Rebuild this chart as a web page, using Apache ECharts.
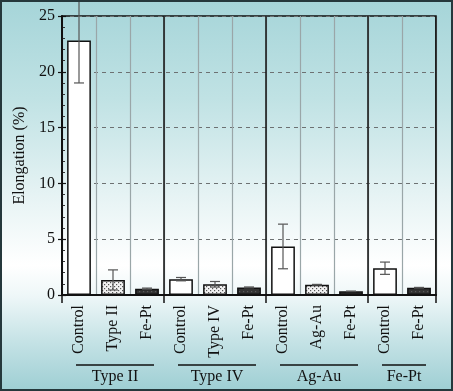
<!DOCTYPE html>
<html><head><meta charset="utf-8">
<script src="https://cdn.jsdelivr.net/npm/echarts@6/dist/echarts.min.js"></script>
<style>
html,body{margin:0;padding:0;}
#c{width:453px;height:391px;box-sizing:border-box;border:2px solid #25383c;}
</style></head>
<body><div id="c"></div>
<script>
// ---- data ----
const categories = ['Control','Type II','Fe-Pt','Control','Type IV','Fe-Pt','Control','Ag-Au','Fe-Pt','Control','Fe-Pt'];
const values     = [22.8, 1.35, 0.57, 1.42, 0.96, 0.68, 4.35, 0.92, 0.33, 2.4, 0.65];
const errors     = [3.8, 0.9, 0.05, 0.15, 0.25, 0.04, 2.0, 0.03, 0.02, 0.55, 0.03];
const groupNames = ['Type II','Type IV','Ag-Au','Fe-Pt'];
const groupStart = [0, 3, 6, 9];
const groupEnd   = [2, 5, 8, 10];
const yTicks     = [0, 5, 10, 15, 20, 25];

const FONT = '"Liberation Serif", "Times New Roman", serif';

function makePattern(bg, dot, size, pts) {
  const c = document.createElement('canvas');
  c.width = size; c.height = size;
  const g = c.getContext('2d');
  g.fillStyle = bg; g.fillRect(0,0,size,size);
  g.fillStyle = dot;
  pts.forEach(p => g.fillRect(p[0], p[1], 1.2, 1.2));
  return {image: c, repeat: 'repeat'};
}
const dotPattern  = makePattern('#f2f2f2', '#555', 4, [[0,0],[2,2]]);
const darkPattern = makePattern('#333333', '#5a5a5a', 4, [[1,1]]);

function fillFor(name) {
  if (name === 'Control') return '#ffffff';
  if (name === 'Fe-Pt') return darkPattern;
  return dotPattern;
}

const barData = values.map((v, i) => ({
  value: v,
  itemStyle: {color: fillFor(categories[i]), borderColor: '#111', borderWidth: 1.5}
}));
const errData = values.map((v, i) => [i, v, errors[i]]);
const groupData = groupNames.map((n, i) => [groupStart[i], groupEnd[i], n]);
const boundaryData = [0, 3, 6, 9, 11].map(b => [b]);

const chart = echarts.init(document.getElementById('c'), null, {renderer: 'canvas'});
const yMax = yTicks[yTicks.length - 1];

chart.setOption({
  animation: false,
  backgroundColor: {type: 'linear', x: 0, y: 0, x2: 0, y2: 1, colorStops: [
    {offset: 0, color: '#a6d5d9'},
    {offset: 0.25, color: '#c0e2e4'},
    {offset: 0.5, color: '#e6f3f4'},
    {offset: 0.68, color: '#ffffff'},
    {offset: 0.76, color: '#eef7f8'},
    {offset: 0.88, color: '#c4e2e5'},
    {offset: 1, color: '#9fcfd4'}
  ]},
  grid: {left: 60, right: 15, top: 14, bottom: 94, show: true, borderColor: '#111', borderWidth: 1.5, backgroundColor: 'transparent'},
  xAxis: {
    type: 'category',
    data: categories,
    axisLine: {lineStyle: {color: '#111', width: 2}},
    axisTick: {show: false},
    axisLabel: {rotate: 90, margin: 10, fontFamily: FONT, fontSize: 16, color: '#111', interval: 0},
    splitLine: {show: true, interval: 0, lineStyle: {color: '#9aa6a8', width: 1.2}}
  },
  yAxis: [{
    type: 'value', min: 0, max: yMax, interval: 5,
    name: 'Elongation (%)', nameLocation: 'middle', nameGap: 30,
    nameTextStyle: {fontFamily: FONT, fontSize: 16, color: '#111'},
    axisLine: {show: true, lineStyle: {color: '#111', width: 2}},
    axisTick: {show: true, length: 4, lineStyle: {color: '#111', width: 1.2}},
    axisLabel: {margin: 7, fontFamily: FONT, fontSize: 16, color: '#111'},
    splitLine: {show: true, lineStyle: {color: '#6d7172', width: 1, type: [4, 4]}}
  }, {
    type: 'value', min: 0, max: yMax, interval: 5, position: 'left',
    axisLine: {show: false},
    axisTick: {show: true, inside: true, length: 4, lineStyle: {color: '#111', width: 1.2}},
    minorTick: {show: true, splitNumber: 5, length: 3, lineStyle: {color: '#333', width: 1}},
    axisLabel: {show: false},
    splitLine: {show: false}
  }],
  series: [{
    type: 'bar',
    data: barData,
    barWidth: '70%',
    z: 3
  }, {
    type: 'custom',
    clip: false,
    z: 4,
    data: errData,
    encode: {x: 0, y: 1},
    renderItem: function (params, api) {
      const i = api.value(0), v = api.value(1), e = api.value(2);
      const hi = api.coord([i, v + e]);
      const lo = api.coord([i, v - e]);
      const w = 5;
      const st = {stroke: '#555', lineWidth: 1.2};
      return {type: 'group', children: [
        {type: 'line', shape: {x1: hi[0], y1: hi[1], x2: lo[0], y2: lo[1]}, style: st},
        {type: 'line', shape: {x1: hi[0]-w, y1: hi[1], x2: hi[0]+w, y2: hi[1]}, style: st},
        {type: 'line', shape: {x1: lo[0]-w, y1: lo[1], x2: lo[0]+w, y2: lo[1]}, style: st}
      ]};
    }
  }, {
    type: 'custom',
    clip: false,
    z: 2,
    data: boundaryData,
    encode: {x: 0},
    renderItem: function (params, api) {
      const b = api.value(0);
      const size = api.size([1, 0]);
      const top = api.coord([0, yMax]);
      const bot = api.coord([0, 0]);
      const x = api.coord([0, 0])[0] - size[0] / 2 + b * size[0];
      return {type: 'line', shape: {x1: x, y1: top[1], x2: x, y2: bot[1] + 8}, style: {stroke: '#111', lineWidth: 1.5}};
    }
  }, {
    type: 'custom',
    clip: false,
    z: 5,
    data: groupData,
    encode: {x: 0},
    renderItem: function (params, api) {
      const s = api.value(0), e = api.value(1);
      const name = groupNames[params.dataIndex];
      const p0 = api.coord([s, 0]);
      const p1 = api.coord([e, 0]);
      const y = p0[1];
      return {type: 'group', children: [
        {type: 'line', shape: {x1: p0[0] - 3, y1: y + 70, x2: p1[0] + 7, y2: y + 70}, style: {stroke: '#111', lineWidth: 1.5}},
        {type: 'text', style: {text: name, x: (p0[0] + p1[0]) / 2 + 2, y: y + 82, align: 'center', verticalAlign: 'middle', font: '16px ' + FONT, fill: '#111'}}
      ]};
    }
  }]
});
</script></body></html>
